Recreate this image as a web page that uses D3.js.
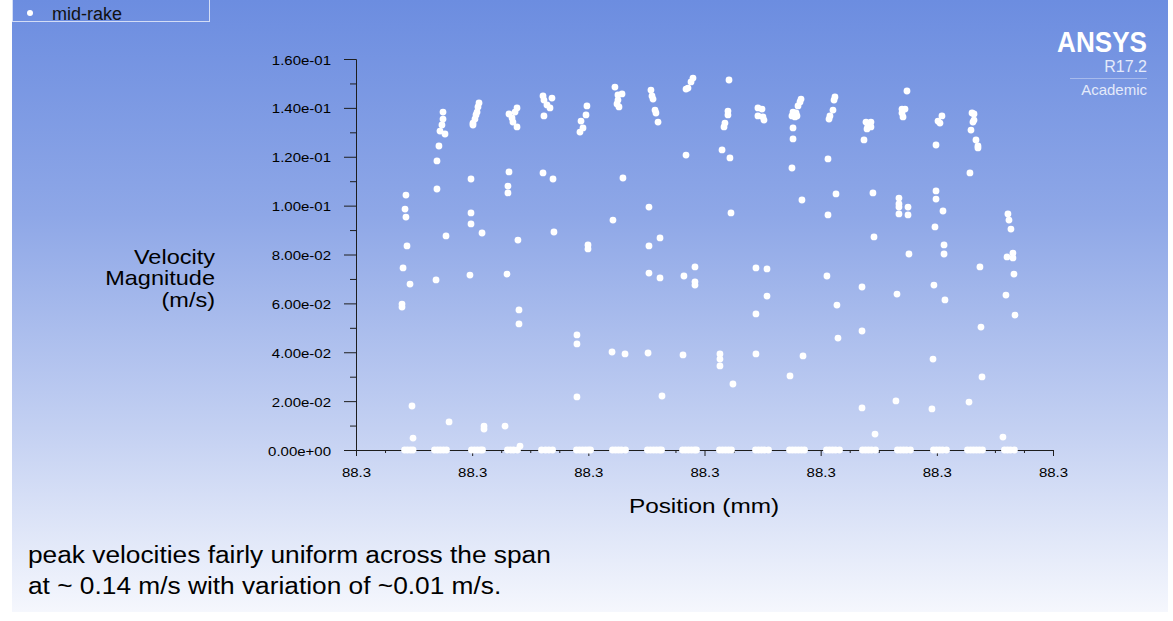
<!DOCTYPE html>
<html>
<head>
<meta charset="utf-8">
<script src="https://cdn.jsdelivr.net/npm/d3@7"></script>
<style>
  html, body { margin: 0; padding: 0; background: #ffffff; }
  svg { display: block; font-family: "Liberation Sans", Arial, sans-serif; }
</style>
</head>
<body>
<svg id="chart" width="1173" height="621"></svg>
<script>
// ---- data -------------------------------------------------------------
const seriesName = "mid-rake";
const xTickValues = [88.27, 88.28, 88.29, 88.30, 88.31, 88.32, 88.33];
const yTickValues = [0, 0.02, 0.04, 0.06, 0.08, 0.10, 0.12, 0.14, 0.16];
const xAxisTitle = "Position (mm)";
const yAxisTitle = ["Velocity", "Magnitude", "(m/s)"];
const noteLines = [
  "peak velocities fairly uniform across the span",
  "at ~ 0.14 m/s with variation of ~0.01 m/s."
];

// rake points with non-zero velocity (position in mm, velocity in m/s)
const position = [
  88.27430, 88.27422, 88.27430, 88.27439, 88.27405, 88.27465, 88.27396, 88.27396, 88.27482, 88.27491,
  88.27749, 88.27749, 88.27740, 88.27723, 88.27766, 88.27714, 88.27697, 88.27697, 88.27775, 88.27689, 88.27801,
  88.28059, 88.28050, 88.28042, 88.28033, 88.28024, 88.28007, 88.28007, 88.27990, 88.27990, 88.27990, 88.28085, 88.27981, 88.28102, 88.28102,
  88.28386, 88.28369, 88.28317, 88.28343, 88.28351, 88.28386, 88.28317, 88.28308, 88.28308, 88.28394, 88.28300, 88.28403, 88.28403, 88.28283, 88.28412,
  88.28610, 88.28618, 88.28687, 88.28644, 88.28670, 88.28618, 88.28610, 88.28696, 88.28704,
  88.28988, 88.28980, 88.28937, 88.28954, 88.28928, 88.28997, 88.28997, 88.28902, 88.28902, 88.28902,
  88.29229, 88.29255, 88.29290, 88.29255, 88.29247, 88.29264, 88.29298, 88.29212, 88.29204, 88.29316,
  88.29539, 88.29548, 88.29557, 88.29574, 88.29582, 88.29600, 88.29522, 88.29617, 88.29522, 88.29522, 88.29617, 88.29514, 88.29634,
  88.29901, 88.29884, 88.29858, 88.29841, 88.29841, 88.29918, 88.29823, 88.29918, 88.29918, 88.29815,
  88.30211, 88.30202, 88.30202, 88.30176, 88.30168, 88.30151, 88.30219, 88.30228, 88.30133, 88.30133, 88.30133, 88.30245,
  88.30460, 88.30495, 88.30460, 88.30503, 88.30512, 88.30443, 88.30538, 88.30538, 88.30443, 88.30443,
  88.30831, 88.30822, 88.30805, 88.30762, 88.30788, 88.30753, 88.30796, 88.30779, 88.30762, 88.30762, 88.30753, 88.30839, 88.30848, 88.30736,
  88.31123, 88.31115, 88.31106, 88.31080, 88.31072, 88.31063, 88.31132, 88.31063, 88.31054, 88.31140, 88.31149,
  88.31390, 88.31433, 88.31407, 88.31399, 88.31433, 88.31373, 88.31450, 88.31459, 88.31356, 88.31356, 88.31356, 88.31468,
  88.31743, 88.31700, 88.31726, 88.31700, 88.31709, 88.31674, 88.31674, 88.31674, 88.31674, 88.31752, 88.31752, 88.31760, 88.31657, 88.31648,
  88.32044, 88.32010, 88.32027, 88.31993, 88.31993, 88.31993, 88.32053, 88.31984, 88.32062, 88.32062, 88.31975, 88.32070, 88.31967, 88.31958,
  88.32303, 88.32320, 88.32320, 88.32311, 88.32294, 88.32337, 88.32354, 88.32354, 88.32285, 88.32371, 88.32380, 88.32389, 88.32277,
  88.32612, 88.32621, 88.32638, 88.32655, 88.32604, 88.32655, 88.32664, 88.32595, 88.32673, 88.32569
];
const velocity = [
  0.1043, 0.0986, 0.0953, 0.0835, 0.0745, 0.0679, 0.0597, 0.0585, 0.0180, 0.0049,
  0.1383, 0.1354, 0.1330, 0.1305, 0.1293, 0.1244, 0.1183, 0.1068, 0.0876, 0.0696, 0.0115,
  0.1420, 0.1404, 0.1383, 0.1371, 0.1354, 0.1338, 0.1330, 0.1109, 0.0970, 0.0925, 0.0888, 0.0716, 0.0098, 0.0086,
  0.1400, 0.1383, 0.1375, 0.1359, 0.1342, 0.1322, 0.1138, 0.1080, 0.1052, 0.0859, 0.0720, 0.0573, 0.0516, 0.0098, 0.0016,
  0.1449, 0.1432, 0.1440, 0.1412, 0.1400, 0.1367, 0.1134, 0.1109, 0.0892,
  0.1408, 0.1371, 0.1346, 0.1318, 0.1301, 0.0839, 0.0823, 0.0471, 0.0434, 0.0217,
  0.1485, 0.1453, 0.1457, 0.1432, 0.1416, 0.1404, 0.1113, 0.0941, 0.0401, 0.0393,
  0.1473, 0.1449, 0.1436, 0.1391, 0.1379, 0.1342, 0.0994, 0.0868, 0.0835, 0.0724, 0.0704, 0.0397, 0.0221,
  0.1522, 0.1506, 0.1481, 0.1477, 0.1207, 0.0749, 0.0712, 0.0688, 0.0675, 0.0389,
  0.1514, 0.1387, 0.1371, 0.1338, 0.1322, 0.1228, 0.1195, 0.0970, 0.0393, 0.0372, 0.0344, 0.0270,
  0.1400, 0.1395, 0.1367, 0.1363, 0.1350, 0.0745, 0.0741, 0.0630, 0.0557, 0.0393,
  0.1436, 0.1424, 0.1408, 0.1383, 0.1379, 0.1367, 0.1367, 0.1363, 0.1318, 0.1273, 0.1154, 0.1023, 0.0385, 0.0303,
  0.1445, 0.1432, 0.1391, 0.1367, 0.1354, 0.1191, 0.1048, 0.0962, 0.0712, 0.0593, 0.0458,
  0.1342, 0.1342, 0.1326, 0.1314, 0.1322, 0.1269, 0.1052, 0.0872, 0.0667, 0.0487, 0.0172, 0.0065,
  0.1469, 0.1395, 0.1395, 0.1379, 0.1363, 0.1031, 0.1007, 0.0994, 0.0966, 0.0994, 0.0962, 0.0802, 0.0638, 0.0201,
  0.1367, 0.1346, 0.1338, 0.1248, 0.1060, 0.1027, 0.0978, 0.0913, 0.0839, 0.0802, 0.0675, 0.0614, 0.0372, 0.0168,
  0.1379, 0.1375, 0.1350, 0.1342, 0.1309, 0.1269, 0.1244, 0.1236, 0.1134, 0.0749, 0.0503, 0.0299, 0.0196,
  0.0966, 0.0941, 0.0904, 0.0806, 0.0790, 0.0786, 0.0720, 0.0634, 0.0552, 0.0053
];
// rake points sitting on walls (velocity 0)
const stagnantPosition = [
  88.27418, 88.27443, 88.27469, 88.27491,
  88.27676, 88.27702, 88.27727, 88.27753, 88.27779,
  88.27994, 88.28020, 88.28046, 88.28072, 88.28089,
  88.28304, 88.28330, 88.28356, 88.28390,
  88.28597, 88.28631, 88.28661, 88.28692,
  88.28898, 88.28924, 88.28950, 88.28976, 88.29001, 88.29019,
  88.29208, 88.29234, 88.29260, 88.29285, 88.29320,
  88.29509, 88.29535, 88.29561, 88.29587, 88.29613, 88.29630,
  88.29811, 88.29836, 88.29862, 88.29888, 88.29914, 88.29931,
  88.30129, 88.30155, 88.30181, 88.30207, 88.30232,
  88.30439, 88.30465, 88.30491, 88.30516, 88.30551,
  88.30732, 88.30757, 88.30783, 88.30809, 88.30835, 88.30861,
  88.31050, 88.31076, 88.31102, 88.31128, 88.31162,
  88.31360, 88.31386, 88.31412, 88.31438, 88.31472,
  88.31661, 88.31687, 88.31713, 88.31739, 88.31773,
  88.31971, 88.31997, 88.32023, 88.32049, 88.32083,
  88.32264, 88.32290, 88.32315, 88.32341, 88.32367, 88.32393,
  88.32582, 88.32608, 88.32634, 88.32668
];

// ---- layout ------------------------------------------------------------
const W = 1173, H = 621;
const plot = { left: 356, right: 1053, top: 59, bottom: 450 };
const svg = d3.select("#chart");

const points = position.map((p, i) => ({ p, v: velocity[i] }))
  .concat(stagnantPosition.map(p => ({ p, v: 0 })));

const x = d3.scaleLinear().domain([xTickValues[0], xTickValues[xTickValues.length - 1]])
  .range([plot.left, plot.right]);
const y = d3.scaleLinear().domain([yTickValues[0], yTickValues[yTickValues.length - 1]])
  .range([plot.bottom, plot.top]);

// background panel with a vertical blue-to-white gradient
const defs = svg.append("defs");
const grad = defs.append("linearGradient").attr("id", "bg")
  .attr("x1", 0).attr("y1", 0).attr("x2", 0).attr("y2", 1);
[["0%", "#6c8de0"], ["35%", "#8ea7e7"], ["70%", "#c3d0f2"], ["100%", "#f5f7fd"]]
  .forEach(([o, c]) => grad.append("stop").attr("offset", o).attr("stop-color", c));
svg.append("rect").attr("x", 12).attr("y", 0).attr("width", 1156).attr("height", 612)
  .attr("fill", "url(#bg)");

// text helper: horizontally stretched text anchored at (tx, ty)
function label(parent, tx, ty, str, size, sx, anchor, extra = {}) {
  const t = parent.append("text")
    .attr("transform", `translate(${tx},${ty}) scale(${sx},1)`)
    .attr("text-anchor", anchor)
    .attr("font-size", size)
    .attr("fill", extra.fill || "#000")
    .text(str);
  if (extra.weight) t.attr("font-weight", extra.weight);
  return t;
}

// exponent format like 1.60e-01
function expFormat(d) {
  const [m, e] = d.toExponential(2).split("e");
  const n = +e;
  return m + "e" + (n < 0 ? "-" : "+") + String(Math.abs(n)).padStart(2, "0");
}

const axisColor = "#1e1e1e";

// y axis: major + minor ticks
const yMinor = yTickValues.slice(0, -1).map((d, i) => (d + yTickValues[i + 1]) / 2);
const gy = svg.append("g").attr("transform", `translate(${plot.left},0)`);
gy.append("g").call(d3.axisLeft(y).tickValues(yMinor).tickSize(6).tickSizeOuter(0).tickFormat(""));
gy.append("g").call(d3.axisLeft(y).tickValues(yTickValues).tickSize(12).tickSizeOuter(0).tickFormat(expFormat))
  .call(g => g.selectAll("text")
    .attr("x", null).attr("dy", null)
    .attr("transform", "translate(-25,5) scale(1.2,1)")
    .attr("font-size", 12.5).attr("font-family", "Liberation Sans, Arial, sans-serif")
    .attr("fill", "#000").attr("text-anchor", "end"));
gy.selectAll("path.domain, line").attr("stroke", axisColor);

// x axis: major + minor ticks
const xMinor = [];
xTickValues.slice(0, -1).forEach((d, i) => {
  const step = (xTickValues[i + 1] - d) / 4;
  for (let k = 1; k < 4; k++) xMinor.push(d + k * step);
});
const gx = svg.append("g").attr("transform", `translate(0,${plot.bottom})`);
gx.append("g").call(d3.axisBottom(x).tickValues(xMinor).tickSize(3).tickSizeOuter(0).tickFormat(""));
gx.append("g").call(d3.axisBottom(x).tickValues(xTickValues).tickSize(6).tickSizeOuter(0).tickFormat(d3.format(".1f")))
  .call(g => g.selectAll("text")
    .attr("y", null).attr("dy", null)
    .attr("transform", "translate(0,27) scale(1.2,1)")
    .attr("font-size", 12.5).attr("font-family", "Liberation Sans, Arial, sans-serif")
    .attr("fill", "#000").attr("text-anchor", "middle"));
gx.selectAll("path.domain, line").attr("stroke", axisColor);

// axis titles
yAxisTitle.forEach((s, i) => label(svg, 215, 263.5 + i * 21.5, s, 21, 1.12, "end"));
label(svg, 704, 513, xAxisTitle, 21, 1.16, "middle");

// points
svg.append("g").selectAll("circle").data(points).join("circle")
  .attr("cx", d => x(d.p)).attr("cy", d => y(d.v)).attr("r", 3.4)
  .attr("fill", "#ffffff");

// legend
const lg = svg.append("g");
lg.append("rect").attr("x", 12.5).attr("y", -1).attr("width", 197).attr("height", 22.5)
  .attr("fill", "none").attr("stroke", "#d3ddf6").attr("stroke-width", 1);
lg.append("circle").attr("cx", 30).attr("cy", 13).attr("r", 3).attr("fill", "#fff");
label(lg, 52, 19.5, seriesName, 18, 1.0, "start", { fill: "#111" });

// product badge
label(svg, 1147, 52, "ANSYS", 29, 0.9, "end", { fill: "#ffffff", weight: "bold" });
label(svg, 1147, 72, "R17.2", 16, 1.0, "end", { fill: "#e4eafa" });
svg.append("line").attr("x1", 1070).attr("x2", 1147).attr("y1", 78.5).attr("y2", 78.5)
  .attr("stroke", "#ffffff").attr("stroke-opacity", 0.35);
label(svg, 1147, 95, "Academic", 15, 1.0, "end", { fill: "#e4eafa" });

// note under the chart
noteLines.forEach((s, i) => label(svg, 28, 563 + i * 31, s, 23, 1.143, "start"));
</script>
</body>
</html>
